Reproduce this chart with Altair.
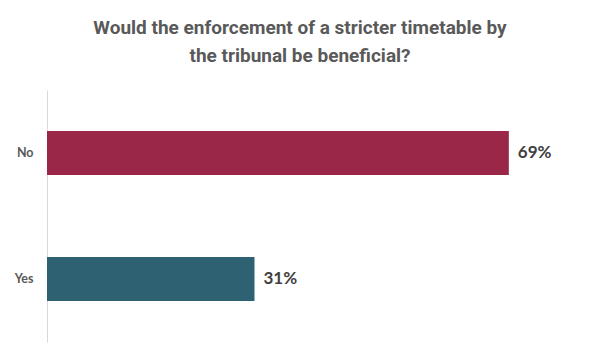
import altair as alt
import pandas as pd

answers = ["No", "Yes"]
shares = [0.69, 0.31]
labels = ["69%", "31%"]
colors = ["#9B2748", "#2E6171"]

df = pd.DataFrame({"answer": answers, "share": shares, "label": labels})

x = alt.X("share:Q", scale=alt.Scale(domain=[0, 0.75], nice=False), axis=None)
y = alt.Y("answer:N", sort=answers, title=None,
          scale=alt.Scale(paddingInner=0.65, paddingOuter=0.325),
          axis=alt.Axis(domain=True, domainColor="#D9D9D9", domainWidth=1, ticks=False,
                        labelPadding=14, labelFont="Lato", labelFontWeight="bold",
                        labelFontSize=12.5, labelColor="#595959", grid=False))

bars = alt.Chart(df).mark_bar().encode(
    x=x, y=y,
    color=alt.Color("answer:N", scale=alt.Scale(domain=answers, range=colors), legend=None),
)

text = alt.Chart(df).mark_text(align="left", baseline="middle", dx=9, font="Lato",
                               fontWeight="bold", fontSize=17, color="#404040").encode(
    x=x, y=y, text="label:N"
)

chart = (bars + text).properties(
    width=502, height=252,
    padding={"left": 39, "top": 82, "right": 43, "bottom": 10},
    autosize=alt.AutoSizeParams(type="none"),
    title=alt.TitleParams(
        ["Would the enforcement of a stricter timetable by", "the tribunal be beneficial?"],
        font="Roboto", fontSize=19, fontWeight="bold", color="#595959",
        lineHeight=28, anchor="middle", offset=24, dx=2,
    ),
).configure_view(stroke=None)

chart.save("out.html", embed_options={"renderer": "svg", "actions": False})
